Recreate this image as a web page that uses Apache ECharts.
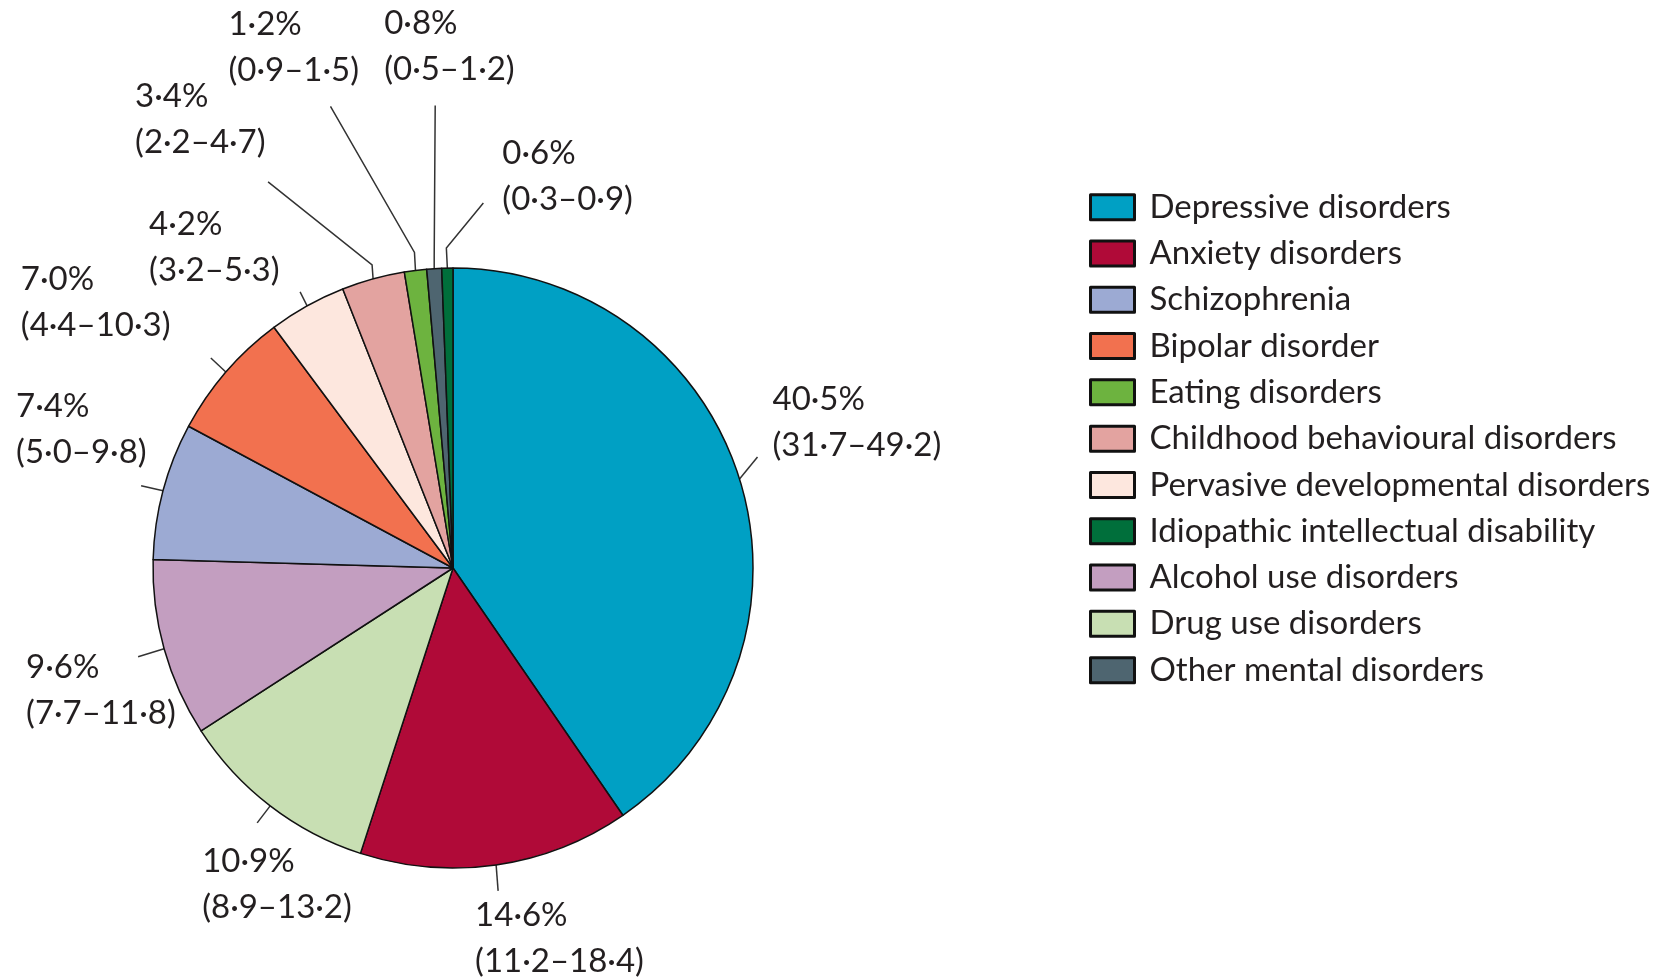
<!DOCTYPE html>
<html><head><meta charset="utf-8">
<script src="https://cdn.jsdelivr.net/npm/echarts@6/dist/echarts.min.js"></script>
<style>html,body{margin:0;padding:0;background:#fff}#c{width:1664px;height:980px}</style>
</head><body><div id="c"></div>
<script>
// ---- data ----
const categories = ['Depressive disorders','Anxiety disorders','Drug use disorders','Alcohol use disorders','Schizophrenia','Bipolar disorder','Pervasive developmental disorders','Childhood behavioural disorders','Eating disorders','Other mental disorders','Idiopathic intellectual disability'];
const shares = [40.5, 14.6, 10.9, 9.6, 7.4, 7.0, 4.2, 3.4, 1.2, 0.8, 0.6];
const lower  = [31.7, 11.2, 8.9, 7.7, 5.0, 4.4, 3.2, 2.2, 0.9, 0.5, 0.3];
const upper  = [49.2, 18.4, 13.2, 11.8, 9.8, 10.3, 5.3, 4.7, 1.5, 1.2, 0.9];
const legendOrder = ['Depressive disorders','Anxiety disorders','Schizophrenia','Bipolar disorder','Eating disorders','Childhood behavioural disorders','Pervasive developmental disorders','Idiopathic intellectual disability','Alcohol use disorders','Drug use disorders','Other mental disorders'];

// ---- styles ----
const colors = {
  'Depressive disorders':'#00A0C4','Anxiety disorders':'#B00A38','Schizophrenia':'#9CAAD3',
  'Bipolar disorder':'#F2714F','Eating disorders':'#6DB33F','Childhood behavioural disorders':'#E3A3A0',
  'Pervasive developmental disorders':'#FDE7DE','Idiopathic intellectual disability':'#006F3B',
  'Alcohol use disorders':'#C39EC0','Drug use disorders':'#C8DFB3','Other mental disorders':'#4E6570'
};
// leader-line shape (relative to the slice edge point) and label offset (relative to line end)
const leader = {
  'Depressive disorders':            {seg:[[18,-22]], lab:[15,-81]},
  'Anxiety disorders':               {seg:[[2,26]], lab:[-23,1]},
  'Drug use disorders':              {seg:[[-13,17]], lab:[-55,15]},
  'Alcohol use disorders':           {seg:[[-26,8]], lab:[-112,-12]},
  'Schizophrenia':                   {seg:[[-22,-5]], lab:[-125,-102]},
  'Bipolar disorder':                {seg:[[-15,-14]], lab:[-190,-102]},
  'Pervasive developmental disorders':{seg:[[-7,-14]], lab:[-151,-91]},
  'Childhood behavioural disorders': {seg:[[-1,-14],[-104,-83]], lab:[-133,-108]},
  'Eating disorders':                {seg:[[-1,-18],[-84,-146]], lab:[-102,-105]},
  'Other mental disorders':          {seg:[[0,-13],[1,-150]], lab:[-51,-105]},
  'Idiopathic intellectual disability':{seg:[[-1,-20],[37,-45]], lab:[19,-73]}
};
const FONT = 'Lato';
const fmt = v => v.toFixed(1).replace('.', '\u00B7');

const chart = echarts.init(document.getElementById('c'), null, {renderer:'canvas'});
chart.setOption({
  backgroundColor:'#fff',
  animation:false,
  legend:{
    orient:'vertical', left:1084, top:179,
    itemWidth:44, itemHeight:25, itemGap:0, icon:'rect',
    selectedMode:false,
    data:legendOrder,
    itemStyle:{borderColor:'#111', borderWidth:3},
    textStyle:{fontFamily:FONT, fontSize:33, lineHeight:46.3, color:'#231f20', padding:[0,0,0,10]}
  },
  series:[{
    type:'pie',
    center:[453,568], radius:300,
    startAngle:90, clockwise:true,
    avoidLabelOverlap:false, minShowLabelAngle:0,
    emphasis:{disabled:true},
    itemStyle:{borderColor:'#111', borderWidth:1.5},
    label:{
      show:true, position:'outside',
      fontFamily:FONT, fontSize:33, lineHeight:46, color:'#231f20',
      formatter: p => fmt(shares[p.dataIndex]) + '%\n(' + fmt(lower[p.dataIndex]) + '\u2013' + fmt(upper[p.dataIndex]) + ')'
    },
    labelLine:{show:true, length:10, length2:10, smooth:false, lineStyle:{color:'#333', width:1.5}},
    labelLayout: function(p){
      const g = leader[categories[p.dataIndex]];
      const pts = p.labelLinePoints;
      if (!g || !pts) return {};
      let cur = [pts[0][0], pts[0][1]];
      const line = [cur.slice()];
      g.seg.forEach(d => { cur = [cur[0]+d[0], cur[1]+d[1]]; line.push(cur.slice()); });
      return {
        x: cur[0] + g.lab[0], y: cur[1] + g.lab[1],
        align:'left', verticalAlign:'top',
        labelLinePoints: line
      };
    },
    data: categories.map((n,i) => ({name:n, value:shares[i], itemStyle:{color:colors[n]}}))
  }]
});
</script>
</body></html>
